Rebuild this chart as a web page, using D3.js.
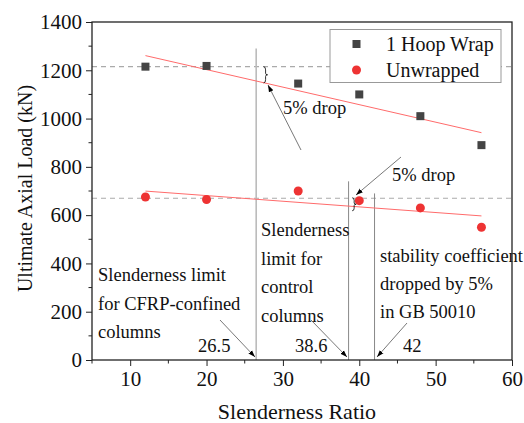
<!DOCTYPE html>
<html>
<head>
<meta charset="utf-8">
<script src="https://cdn.jsdelivr.net/npm/d3@7"></script>
<style>
  html, body { margin: 0; padding: 0; background: #fff; }
  svg { display: block; }
  svg text { font-family: "Liberation Serif", "Times New Roman", Tinos, "DejaVu Serif", serif; }
</style>
</head>
<body>
<svg id="chart" width="524" height="423"></svg>
<script>
// Slenderness ratios of the tested columns
const slenderness = [12, 20, 32, 40, 48, 56];
// Ultimate axial loads (kN)
const hoopWrap = [1215, 1218, 1145, 1100, 1010, 890];
const unwrapped = [675, 665, 700, 660, 630, 550];

const xTicks = [10, 20, 30, 40, 50, 60];
const yTicks = [0, 200, 400, 600, 800, 1000, 1200, 1400];

// Reference load levels (dashed) and slenderness limits (vertical lines)
const referenceLoads = [1215, 670];
const limitValues = [26.5, 38.6, 42];
const limitTops = [1290, 740, 690];
const limitLabels = ["26.5", "38.6", "42"];

const plot = { left: 92, right: 512, top: 22, bottom: 360 };
const serif = '"Liberation Serif", "Times New Roman", Tinos, "DejaVu Serif", serif';

const svg = d3.select("#chart");
const x = d3.scaleLinear().domain([5, 60]).range([plot.left, plot.right]);
const y = d3.scaleLinear().domain([0, 1400]).range([plot.bottom, plot.top]);

// least-squares linear fit
function linFit(xv, yv) {
  const mx = d3.mean(xv), my = d3.mean(yv);
  let sxy = 0, sxx = 0;
  for (let i = 0; i < xv.length; i++) { sxy += (xv[i] - mx) * (yv[i] - my); sxx += (xv[i] - mx) ** 2; }
  const b = sxy / sxx, a = my - b * mx;
  return v => a + b * v;
}
const hoopFit = linFit(slenderness, hoopWrap);
const unwrapFit = linFit(slenderness, unwrapped);

svg.append("defs").append("marker")
  .attr("id", "arrow").attr("viewBox", "0 0 10 10")
  .attr("refX", 10).attr("refY", 5)
  .attr("markerWidth", 7).attr("markerHeight", 7)
  .attr("markerUnits", "userSpaceOnUse")
  .attr("orient", "auto")
  .append("path").attr("d", "M0,1.5 L10,5 L0,8.5 Z").attr("fill", "#000");

// dashed reference levels
svg.append("g").selectAll("line").data(referenceLoads).join("line")
  .attr("x1", plot.left).attr("x2", plot.right)
  .attr("y1", d => y(d)).attr("y2", d => y(d))
  .attr("stroke", "#aaa").attr("stroke-width", 1.1)
  .attr("stroke-dasharray", "5,4");

// slenderness limit lines
svg.append("g").selectAll("line").data(limitValues).join("line")
  .attr("x1", d => x(d)).attr("x2", d => x(d))
  .attr("y1", y(0)).attr("y2", (d, i) => y(limitTops[i]))
  .attr("stroke", (d, i) => i === 0 ? "#bbb" : "#888")
  .attr("stroke-width", (d, i) => i === 0 ? 1.6 : 1);

// fitted trend lines
const xr = [d3.min(slenderness), d3.max(slenderness)];
[hoopFit, unwrapFit].forEach(f => {
  svg.append("line")
    .attr("x1", x(xr[0])).attr("y1", y(f(xr[0])))
    .attr("x2", x(xr[1])).attr("y2", y(f(xr[1])))
    .attr("stroke", "#ff6b6b").attr("stroke-width", 1);
});

// data markers
svg.append("g").selectAll("rect").data(slenderness).join("rect")
  .attr("x", d => x(d) - 4).attr("y", (d, i) => y(hoopWrap[i]) - 4)
  .attr("width", 8).attr("height", 8).attr("fill", "#444");
svg.append("g").selectAll("circle").data(slenderness).join("circle")
  .attr("cx", d => x(d)).attr("cy", (d, i) => y(unwrapped[i]))
  .attr("r", 4.5).attr("fill", "#ee3333");

// braces marking the 5% drop
function brace(x0, ya, yb, w) {
  const h = yb - ya, ym = (ya + yb) / 2, xm = x0 + w / 2;
  return `M${x0},${ya} Q${xm},${ya} ${xm},${ya + h * 0.2} L${xm},${ym - h * 0.1} Q${xm},${ym} ${x0 + w},${ym}` +
         ` Q${xm},${ym} ${xm},${ym + h * 0.1} L${xm},${yb - h * 0.2} Q${xm},${yb} ${x0},${yb}`;
}
const braceSpans = [[27.6, 1215, hoopFit(27.6)], [39.2, 672, 618]];
braceSpans.forEach(s => {
  svg.append("path").attr("d", brace(x(s[0]) - 1, y(s[1]), y(s[2]), 4))
    .attr("fill", "none").attr("stroke", "#000").attr("stroke-width", 0.8);
});

// arrows
const arrows = [
  [301, 150, 268, 85],
  [401, 157, 356, 195],
  [220, 320, 255, 357],
  [311, 320, 347, 357],
  [407, 323, 377, 357]
];
svg.append("g").selectAll("line").data(arrows).join("line")
  .attr("x1", d => d[0]).attr("y1", d => d[1])
  .attr("x2", d => d[2]).attr("y2", d => d[3])
  .attr("stroke", "#555").attr("stroke-width", 0.8)
  .attr("marker-end", "url(#arrow)");

// annotation text
function textBlock(lines, tx, ty, dy) {
  const t = svg.append("text").attr("font-size", 18.5).attr("fill", "#111")
    .style("font-family", serif);
  lines.forEach((l, i) => t.append("tspan").attr("x", tx).attr("y", ty + i * dy).text(l));
}
textBlock(["5% drop"], 283, 114, 0);
textBlock(["5% drop"], 392, 181, 0);
textBlock(["Slenderness limit", "for CFRP-confined", "columns"], 98, 281, 28.5);
textBlock(["Slenderness", "limit for", "control", "columns"], 261, 236, 28.6);
textBlock(["stability coefficient", "dropped by 5%", "in GB 50010"], 380, 262, 28);
const limitLabelX = [198, 295, 403];
limitLabels.forEach((l, i) => textBlock([l], limitLabelX[i], 352, 0));

// axes
const axisColor = "#222";
const xAxis = svg.append("g").attr("transform", `translate(0,${plot.bottom})`)
  .call(d3.axisBottom(x).tickValues(xTicks).tickSize(6).tickPadding(3).tickFormat(d3.format("d")));
const yAxis = svg.append("g").attr("transform", `translate(${plot.left},0)`)
  .call(d3.axisLeft(y).tickValues(yTicks).tickSize(6).tickPadding(4).tickFormat(d3.format("d")));
[xAxis, yAxis].forEach(g => {
  g.attr("font-family", null);
  g.select(".domain").remove();
  g.selectAll("line").attr("stroke", axisColor).attr("stroke-width", 1);
  g.selectAll("text").attr("font-size", 21).attr("fill", "#111").style("font-family", serif);
});
xAxis.selectAll("text").attr("dy", "0.82em");

// minor ticks
svg.append("g").selectAll("line").data([5, 15, 25, 35, 45, 55]).join("line")
  .attr("x1", d => x(d)).attr("x2", d => x(d))
  .attr("y1", plot.bottom).attr("y2", plot.bottom + 3.5)
  .attr("stroke", axisColor);
svg.append("g").selectAll("line").data([100, 300, 500, 700, 900, 1100, 1300]).join("line")
  .attr("x1", plot.left - 3.5).attr("x2", plot.left)
  .attr("y1", d => y(d)).attr("y2", d => y(d))
  .attr("stroke", axisColor);

// frame
svg.append("rect")
  .attr("x", plot.left).attr("y", plot.top)
  .attr("width", plot.right - plot.left).attr("height", plot.bottom - plot.top)
  .attr("fill", "none").attr("stroke", axisColor).attr("stroke-width", 1.3);

// axis titles
svg.append("text").attr("x", 297).attr("y", 419).attr("text-anchor", "middle")
  .attr("font-size", 22).attr("fill", "#111").style("font-family", serif).text("Slenderness Ratio");
svg.append("text").attr("transform", "translate(32,188.5) rotate(-90)")
  .attr("text-anchor", "middle").attr("font-size", 20).attr("fill", "#111").style("font-family", serif)
  .text("Ultimate Axial Load (kN)");

// legend
const lg = svg.append("g");
lg.append("rect").attr("x", 330).attr("y", 29.5).attr("width", 171).attr("height", 53)
  .attr("fill", "#fff").attr("stroke", "#999").attr("stroke-width", 1);
lg.append("rect").attr("x", 352.5).attr("y", 40).attr("width", 8).attr("height", 8).attr("fill", "#444");
lg.append("circle").attr("cx", 356.5).attr("cy", 70).attr("r", 4.5).attr("fill", "#ee3333");
lg.append("text").attr("x", 386).attr("y", 51).attr("font-size", 20).attr("fill", "#111").style("font-family", serif).text("1 Hoop Wrap");
lg.append("text").attr("x", 386).attr("y", 77).attr("font-size", 20).attr("fill", "#111").style("font-family", serif).text("Unwrapped");
</script>
</body>
</html>
